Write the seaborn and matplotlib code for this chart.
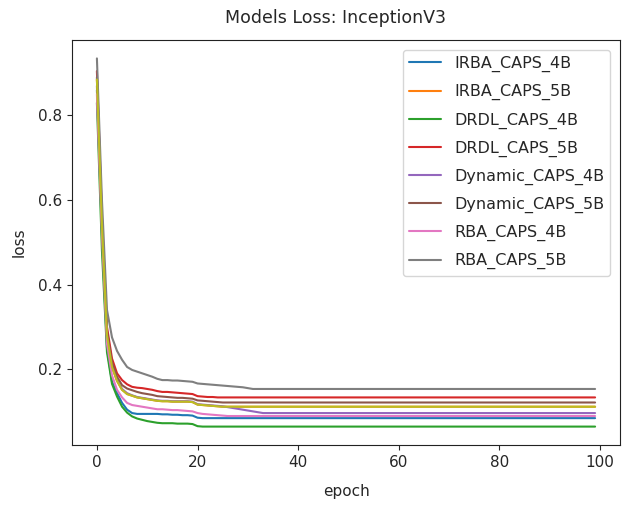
import numpy as np
import pandas as pd
import matplotlib
matplotlib.use("Agg")
import matplotlib.pyplot as plt
import seaborn as sns

# loss curves (epochs 0..35, then the plateau value)
n_epochs = 100

irba_4b = [0.860, 0.52, 0.25, 0.170, 0.143, 0.120, 0.104, 0.096, 0.094, 0.094,
           0.094, 0.094, 0.094, 0.093, 0.093, 0.092, 0.092, 0.091, 0.091, 0.090,
           0.085, 0.084, 0.084, 0.084, 0.084, 0.084, 0.084, 0.084, 0.084, 0.084,
           0.084, 0.084, 0.084, 0.084, 0.084, 0.084] + [0.084] * 64
irba_5b = [0.885, 0.54, 0.28, 0.205, 0.172, 0.151, 0.141, 0.137, 0.133, 0.131,
           0.129, 0.127, 0.125, 0.124, 0.124, 0.123, 0.123, 0.123, 0.123, 0.122,
           0.116, 0.115, 0.114, 0.113, 0.112, 0.111, 0.111, 0.111, 0.111, 0.111,
           0.111, 0.111, 0.111, 0.111, 0.111, 0.111] + [0.111] * 64
drdl_4b = [0.830, 0.48, 0.24, 0.165, 0.135, 0.111, 0.097, 0.088, 0.083, 0.080,
           0.077, 0.075, 0.073, 0.072, 0.072, 0.072, 0.071, 0.071, 0.071, 0.070,
           0.065, 0.064, 0.064, 0.064, 0.064, 0.064, 0.064, 0.064, 0.064, 0.064,
           0.064, 0.064, 0.064, 0.064, 0.064, 0.064] + [0.064] * 64
drdl_5b = [0.905, 0.56, 0.30, 0.225, 0.190, 0.174, 0.164, 0.158, 0.156, 0.155,
           0.153, 0.151, 0.148, 0.146, 0.146, 0.145, 0.144, 0.143, 0.142, 0.141,
           0.136, 0.135, 0.134, 0.134, 0.133, 0.133, 0.133, 0.133, 0.133, 0.133,
           0.133, 0.133, 0.133, 0.133, 0.133, 0.133] + [0.133] * 64
dyn_4b = [0.870, 0.54, 0.28, 0.207, 0.174, 0.153, 0.143, 0.138, 0.134, 0.132,
          0.130, 0.128, 0.126, 0.125, 0.125, 0.124, 0.124, 0.124, 0.124, 0.123,
          0.117, 0.116, 0.115, 0.114, 0.113, 0.112, 0.110, 0.108, 0.106, 0.104,
          0.102, 0.100, 0.098, 0.096, 0.096, 0.096] + [0.096] * 64
dyn_5b = [0.890, 0.55, 0.29, 0.215, 0.182, 0.162, 0.154, 0.150, 0.146, 0.143,
          0.141, 0.139, 0.136, 0.135, 0.134, 0.133, 0.132, 0.132, 0.131, 0.130,
          0.126, 0.125, 0.124, 0.123, 0.122, 0.121, 0.121, 0.121, 0.121, 0.121,
          0.121, 0.121, 0.121, 0.121, 0.121, 0.121] + [0.121] * 64
rba_4b = [0.850, 0.52, 0.26, 0.185, 0.151, 0.133, 0.120, 0.115, 0.113, 0.111,
          0.109, 0.107, 0.105, 0.105, 0.104, 0.103, 0.103, 0.102, 0.101, 0.100,
          0.096, 0.094, 0.093, 0.092, 0.091, 0.090, 0.089, 0.089, 0.089, 0.089,
          0.089, 0.089, 0.089, 0.089, 0.089, 0.089] + [0.089] * 64
rba_5b = [0.935, 0.60, 0.34, 0.275, 0.243, 0.222, 0.205, 0.198, 0.194, 0.190,
          0.186, 0.182, 0.177, 0.174, 0.174, 0.173, 0.173, 0.172, 0.171, 0.170,
          0.166, 0.165, 0.164, 0.163, 0.162, 0.161, 0.160, 0.159, 0.158, 0.157,
          0.155, 0.153, 0.153, 0.153, 0.153, 0.153] + [0.153] * 64
# ninth run plotted without a legend entry (olive), sits on top of IRBA_CAPS_5B
extra_run = list(irba_5b)

labels = ["IRBA_CAPS_4B", "IRBA_CAPS_5B", "DRDL_CAPS_4B", "DRDL_CAPS_5B",
          "Dynamic_CAPS_4B", "Dynamic_CAPS_5B", "RBA_CAPS_4B", "RBA_CAPS_5B"]
series = [irba_4b, irba_5b, drdl_4b, drdl_5b, dyn_4b, dyn_5b, rba_4b, rba_5b]

sns.set_style("ticks")
plt.rcParams["font.family"] = ["DejaVu Sans"]

fig, ax = plt.subplots(figsize=(6.27, 5.05), dpi=100)
fig.subplots_adjust(left=72 / 627, right=620 / 627, top=1 - 40 / 505, bottom=1 - 445 / 505)

epochs = np.arange(n_epochs)
colors = sns.color_palette("tab10")
for i, (name, vals) in enumerate(zip(labels, series)):
    sns.lineplot(x=epochs, y=vals, ax=ax, color=colors[i], label=name, linewidth=1.5)
sns.lineplot(x=epochs, y=extra_run, ax=ax, color=colors[8], linewidth=1.5, legend=False)

ax.set_title("Models Loss: InceptionV3", fontsize=12.5, x=0.48, pad=12)
ax.set_xlabel("epoch", fontsize=11, labelpad=10)
ax.set_ylabel("loss", fontsize=11, labelpad=8)
ax.tick_params(labelsize=11)
ax.set_xticks([0, 20, 40, 60, 80, 100])
ax.set_yticks([0.2, 0.4, 0.6, 0.8])
for s in ax.spines.values():
    s.set_color("#222222")

ax.legend(loc="upper right", fontsize=11.5, labelspacing=0.75, frameon=True,
          borderaxespad=0.6)

fig.savefig("out.png", dpi=100)
